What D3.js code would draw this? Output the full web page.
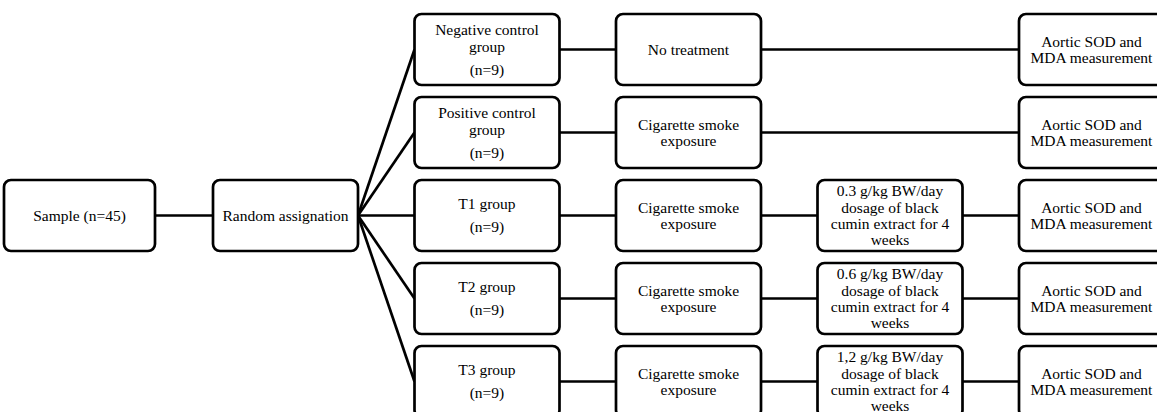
<!DOCTYPE html>
<html>
<head>
<meta charset="utf-8">
<script src="https://cdn.jsdelivr.net/npm/d3@7"></script>
<style>
  body { margin: 0; background: #fff; }
  svg text { font-family: "Liberation Serif", "Times New Roman", serif; font-size: 15.5px; fill: #000; }
</style>
</head>
<body>
<div id="chart"></div>
<script>
const width = 1157, height = 412;

// flowchart content
const sampleLabel = ["Sample (n=45)"];
const assignLabel = ["Random assignation"];
const groupNames = [
  ["Negative control", "group"],
  ["Positive control", "group"],
  ["T1 group"],
  ["T2 group"],
  ["T3 group"]
];
const groupN = ["(n=9)", "(n=9)", "(n=9)", "(n=9)", "(n=9)"];
const treatments = [
  ["No treatment"],
  ["Cigarette smoke", "exposure"],
  ["Cigarette smoke", "exposure"],
  ["Cigarette smoke", "exposure"],
  ["Cigarette smoke", "exposure"]
];
const dosages = [
  null,
  null,
  ["0.3 g/kg BW/day", "dosage of black", "cumin extract for 4", "weeks"],
  ["0.6 g/kg BW/day", "dosage of black", "cumin extract for 4", "weeks"],
  ["1,2 g/kg BW/day", "dosage of black", "cumin extract for 4", "weeks"]
];
const outcomes = [
  ["Aortic SOD and", "MDA measurement"],
  ["Aortic SOD and", "MDA measurement"],
  ["Aortic SOD and", "MDA measurement"],
  ["Aortic SOD and", "MDA measurement"],
  ["Aortic SOD and", "MDA measurement"]
];

const svg = d3.select("#chart")
  .append("svg")
  .attr("width", width)
  .attr("height", height);

const rows = d3.range(groupNames.length);
const y = d3.scaleBand()
  .domain(rows)
  .range([14, 417])
  .paddingInner(12 / 83)
  .paddingOuter(0);

// columns 1..5 (assign, group, treatment, dosage, outcome)
const x = d3.scaleLinear().domain([1, 5]).range([213, 1019]);
const boxW = 145, boxH = y.bandwidth(), r = 7, lh = 16.3;
const midY = y(2) + boxH / 2;

const lines = svg.append("g").attr("stroke", "#000").attr("stroke-width", 2.7).attr("fill", "none");
const boxes = svg.append("g");

function box(x0, y0, w, h) {
  boxes.append("rect")
    .attr("x", x0).attr("y", y0).attr("width", w).attr("height", h)
    .attr("rx", r).attr("ry", r)
    .attr("fill", "#fff").attr("stroke", "#000").attr("stroke-width", 2.7);
}

function label(cx, cy, arr) {
  const t = boxes.append("text").attr("text-anchor", "middle");
  arr.forEach((s, i) => {
    t.append("tspan")
      .attr("x", cx)
      .attr("y", cy + (i - (arr.length - 1) / 2) * lh)
      .attr("dy", "0.35em")
      .text(s);
  });
}

function link(x1, y1, x2, y2) {
  lines.append("line").attr("x1", x1).attr("y1", y1).attr("x2", x2).attr("y2", y2);
}

// sample and assignation boxes
const sampleX = 4, sampleW = 151;
box(sampleX, midY - boxH / 2, sampleW, boxH);
label(sampleX + sampleW / 2, midY, sampleLabel);
link(sampleX + sampleW, midY, x(1), midY);
box(x(1), midY - boxH / 2, boxW, boxH);
label(x(1) + boxW / 2, midY, assignLabel);

rows.forEach(i => {
  const cy = y(i) + boxH / 2;
  // fan out from the assignation box
  link(x(1) + boxW, midY, x(2), cy);
  // group box
  box(x(2), y(i), boxW, boxH);
  const names = groupNames[i];
  const gap = 23;
  const span = (names.length - 1) * lh + gap;
  const top = cy - span / 2;
  const t = boxes.append("text").attr("text-anchor", "middle");
  names.forEach((s, k) => {
    t.append("tspan").attr("x", x(2) + boxW / 2).attr("y", top + k * lh).attr("dy", "0.35em").text(s);
  });
  t.append("tspan").attr("x", x(2) + boxW / 2).attr("y", top + span).attr("dy", "0.35em").text(groupN[i]);

  link(x(2) + boxW, cy, x(3), cy);
  box(x(3), y(i), boxW, boxH);
  label(x(3) + boxW / 2, cy, treatments[i]);

  if (dosages[i]) {
    link(x(3) + boxW, cy, x(4), cy);
    box(x(4), y(i), boxW, boxH);
    label(x(4) + boxW / 2, cy, dosages[i]);
    link(x(4) + boxW, cy, x(5), cy);
  } else {
    link(x(3) + boxW, cy, x(5), cy);
  }
  box(x(5), y(i), boxW, boxH);
  label(x(5) + boxW / 2, cy, outcomes[i]);
});
</script>
</body>
</html>
